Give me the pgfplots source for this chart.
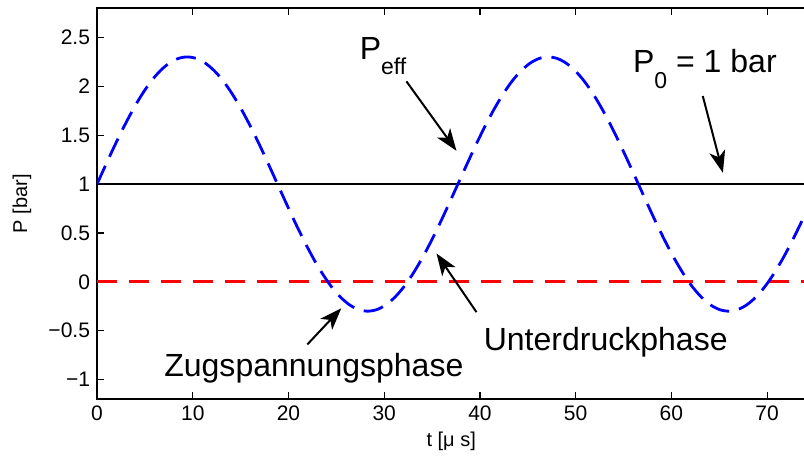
\documentclass[border=0pt]{standalone}
\usepackage{fontspec}
\setmainfont{Liberation Sans}
\usepackage{pgfplots}
\pgfplotsset{compat=1.18}
\usetikzlibrary{calc,arrows.meta}

\begin{document}
\begin{tikzpicture}
\begin{axis}[name=ax, scale only axis, width=354pt, height=195.5pt,
  xmin=0, xmax=74, ymin=-1.2, ymax=2.8,
  xtick={0,10,20,30,40,50,60,70},
  ytick={-1,-0.5,0,0.5,1,1.5,2,2.5},
  yticklabels={−1,−0.5,0,0.5,1,1.5,2,2.5},
  ytick pos=left,
  tick align=inside, major tick length=3.5pt,
  /pgf/number format/assume math mode=true,
  tick label style={font=\fontsize{10.5}{12}\selectfont},
  label style={font=\fontsize{10}{12}\selectfont},
  xlabel={t [μ s]}, ylabel={P [bar]},
  xlabel style={at={(axis description cs:0.5,-0.107)}, anchor=center},
  ylabel style={at={(axis description cs:-0.106,0.5)}, anchor=center},
  axis line style={line width=0.8pt},
  major tick style={line width=0.6pt, black},
]
\addplot[red, line width=1.4pt, dash pattern=on 10pt off 6pt] coordinates {(0,0) (74,0)};
\addplot[black, line width=1.3pt] coordinates {(0,1) (74,1)};
\addplot[blue, line width=1.4pt, dash pattern=on 10pt off 5pt, smooth] table {
t P
0 1.000
0.943 1.203
1.885 1.402
2.828 1.590
3.770 1.764
4.713 1.919
5.655 2.052
6.598 2.158
7.540 2.236
8.483 2.284
9.425 2.300
10.368 2.284
11.310 2.236
12.253 2.158
13.195 2.052
14.138 1.919
15.080 1.764
16.023 1.590
16.965 1.402
17.908 1.203
18.850 1.000
19.793 0.797
20.735 0.598
21.678 0.410
22.620 0.236
23.563 0.081
24.505 -0.052
25.448 -0.158
26.390 -0.236
27.333 -0.284
28.275 -0.300
29.218 -0.284
30.160 -0.236
31.103 -0.158
32.045 -0.052
32.988 0.081
33.930 0.236
34.873 0.410
35.815 0.598
36.758 0.797
37.700 1.000
38.643 1.203
39.585 1.402
40.528 1.590
41.470 1.764
42.413 1.919
43.355 2.052
44.298 2.158
45.240 2.236
46.183 2.284
47.125 2.300
48.068 2.284
49.010 2.236
49.953 2.158
50.895 2.052
51.838 1.919
52.780 1.764
53.723 1.590
54.665 1.402
55.608 1.203
56.550 1.000
57.493 0.797
58.435 0.598
59.378 0.410
60.320 0.236
61.263 0.081
62.205 -0.052
63.148 -0.158
64.090 -0.236
65.033 -0.284
65.975 -0.300
66.918 -0.284
67.860 -0.236
68.803 -0.158
69.745 -0.052
70.688 0.081
71.630 0.236
72.573 0.410
73.515 0.598
74.458 0.797
};
\draw[line width=1pt, -{Stealth[length=11pt,width=8pt,inset=3pt]}] (axis cs:21.97,-0.64) -- (axis cs:25.52,-0.27);
\draw[line width=1pt, -{Stealth[length=11pt,width=8pt,inset=3pt]}] (axis cs:39.64,-0.31) -- (axis cs:35.46,0.29);
\draw[line width=1pt, -{Stealth[length=11pt,width=8pt,inset=3pt]}] (axis cs:32.32,2.05) -- (axis cs:37.55,1.34);
\draw[line width=1pt, -{Stealth[length=11pt,width=8pt,inset=3pt]}] (axis cs:63.28,1.90) -- (axis cs:65.38,1.115);
\node[anchor=base, inner sep=0pt, font=\fontsize{16}{18}\selectfont] at (axis cs:22.65,-0.966) {Zugspannungsphase};
\node[anchor=base, inner sep=0pt, font=\fontsize{16}{18}\selectfont] at (axis cs:53.14,-0.70) {Unterdruckphase};
\node[anchor=base west, inner sep=0pt, font=\fontsize{16}{18}\selectfont] at (axis cs:27.41,2.27) {P\raisebox{-7.5pt}{\fontsize{11.5}{13}\selectfont eff}};
\node[anchor=base west, inner sep=0pt, font=\fontsize{16}{18}\selectfont] at (axis cs:55.96,2.136) {P\raisebox{-8pt}{\fontsize{11.5}{13}\selectfont 0} = 1 bar};
\end{axis}
\pgfresetboundingbox
\path ($(ax.south west)+(-48.5pt,-31.5pt)$) rectangle ($(ax.south west)+(353.3pt,199.5pt)$);
\end{tikzpicture}
\end{document}
